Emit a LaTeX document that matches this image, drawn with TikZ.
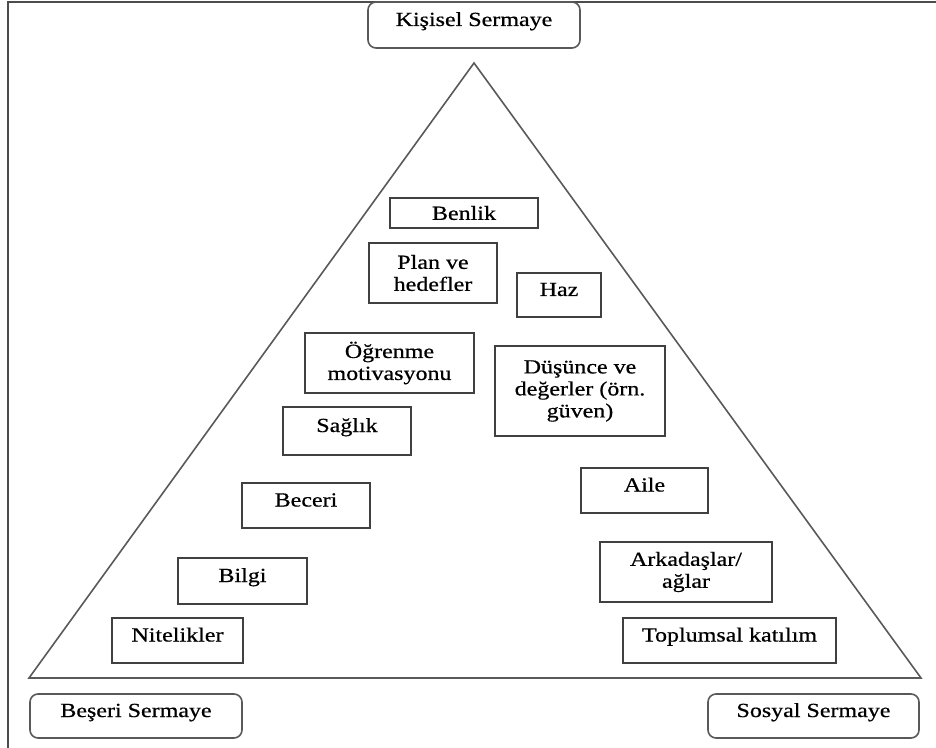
\documentclass[tikz,border=0pt]{standalone}
\usepackage{fontspec}
\setmainfont[FakeStretch=1.2,FakeBold=0.6]{Liberation Serif}
\usepackage{tikz}

\begin{document}
\begin{tikzpicture}[x=0.5pt,y=-0.5pt,
    kutu/.style={draw=black!75,line width=1pt,fill=white,text=black,align=center,font=\fontsize{10}{11}\selectfont,inner sep=1pt},
    tek/.style={text height=7pt,text depth=6pt},
    sermaye/.style={kutu,draw=black!65,line width=0.8pt,rounded corners=4pt,tek}]
            \useasboundingbox (0,0) rectangle (936,748);
            \draw[line width=1pt,black!70] (8,748)--(8,2)--(936,2);
            \coordinate (tepe) at (474,63);
            \coordinate (solalt) at (29,678);
            \coordinate (sagalt) at (921,678);
            \draw[line width=0.8pt,black!65] (tepe)--(solalt)--(sagalt)--cycle;
            \node[sermaye,minimum width=106pt,minimum height=23pt] (kisisel) at (474,25) {Kişisel Sermaye};
            \node[sermaye,minimum width=106pt,minimum height=22pt] (beseri) at (136,716) {Beşeri Sermaye};
            \node[sermaye,minimum width=105.5pt,minimum height=22pt] (sosyal) at (813.5,716) {Sosyal Sermaye};
            \node[kutu,minimum width=74pt,minimum height=15pt] (benlik) at (464,213) {Benlik};
            \node[kutu,minimum width=64pt,minimum height=30pt] (plan) at (433,273) {Plan ve\\hedefler};
            \node[kutu,tek,minimum width=42pt,minimum height=22pt] (haz) at (559,295) {Haz};
            \node[kutu,minimum width=84.5pt,minimum height=30pt] (ogrenme) at (389.5,363) {Öğrenme\\motivasyonu};
            \node[kutu,minimum width=85pt,minimum height=45pt] (dusunce) at (580,391) {Düşünce ve\\değerler (örn.\\güven)};
            \node[kutu,tek,minimum width=64pt,minimum height=24pt] (saglik) at (347,431) {Sağlık};
            \node[kutu,tek,minimum width=64pt,minimum height=22.5pt] (beceri) at (306,505.5) {Beceri};
            \node[kutu,tek,minimum width=63.5pt,minimum height=22.5pt] (aile) at (644.5,490.5) {Aile};
            \node[kutu,tek,minimum width=64.5pt,minimum height=23pt] (bilgi) at (242.5,581) {Bilgi};
            \node[kutu,minimum width=86pt,minimum height=30pt] (arkadas) at (686,572) {Arkadaşlar/\\ağlar};
            \node[kutu,tek,minimum width=65.5pt,minimum height=22.5pt] (nitelik) at (177.5,640.5) {Nitelikler};
            \node[kutu,tek,minimum width=106.5pt,minimum height=22.5pt] (toplumsal) at (729.5,640.5) {Toplumsal katılım};
          \end{tikzpicture}
\end{document}
